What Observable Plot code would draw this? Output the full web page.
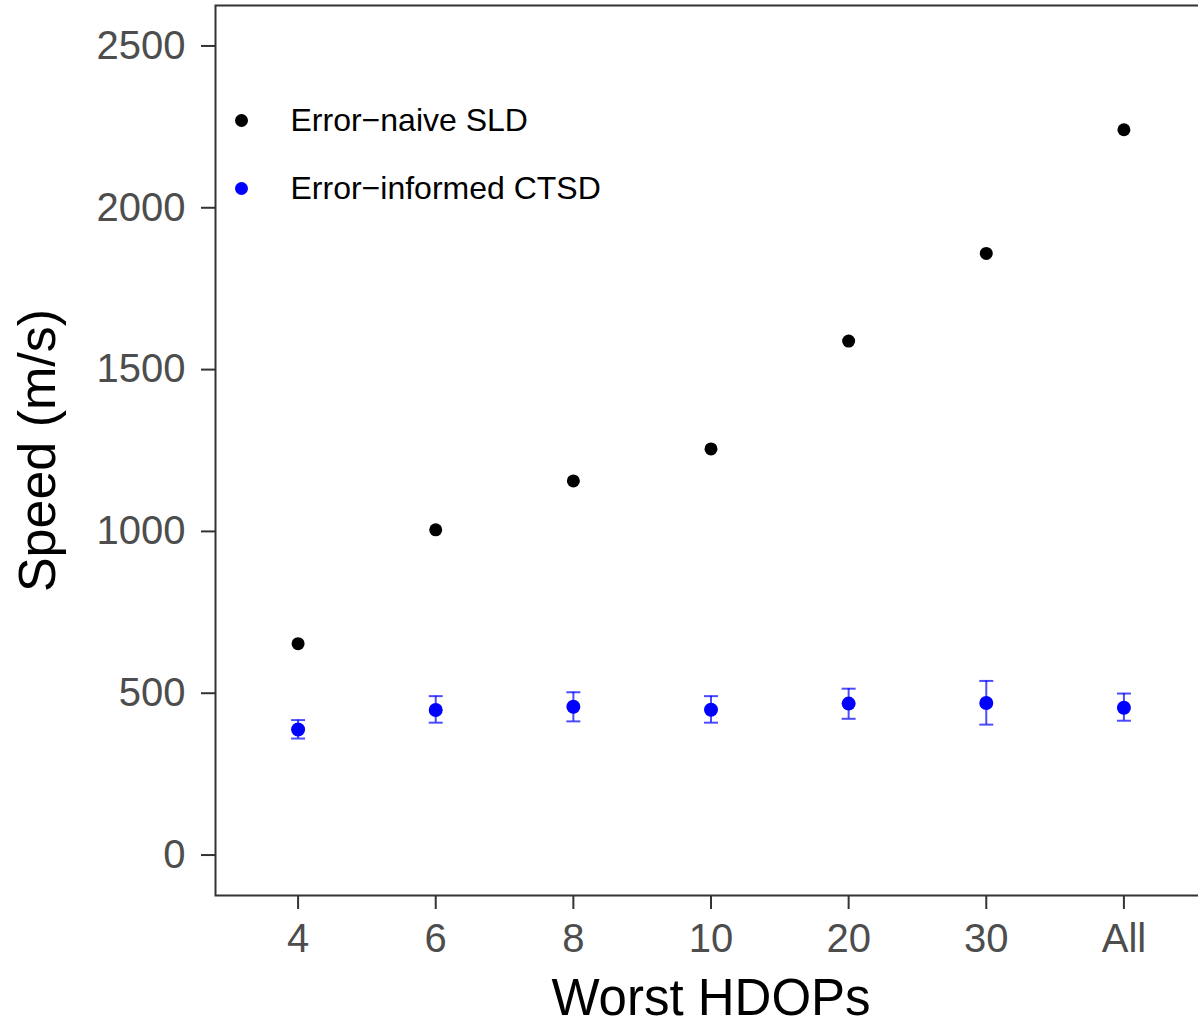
<!DOCTYPE html>
<html>
<head>
<meta charset="utf-8">
<script src="https://cdn.jsdelivr.net/npm/d3@7"></script>
<script src="https://cdn.jsdelivr.net/npm/@observablehq/plot@0.6"></script>
<style>
  html, body { margin: 0; padding: 0; background: white; overflow: hidden; }
  #chart svg { font-family: "Liberation Sans", Arial, Helvetica, sans-serif; }
</style>
</head>
<body>
<div id="chart"></div>
<script>
const categories = ["4", "6", "8", "10", "20", "30", "All"];
const naiveSLD = [653, 1005, 1156, 1255, 1588, 1859, 2241];
const ctsd = [388, 448, 458, 449, 468, 470, 455];
const ctsdLow = [360, 409, 413, 409, 421, 403, 415];
const ctsdHigh = [417, 491, 503, 491, 514, 538, 499];
const seriesNames = ["Error\u2212naive SLD", "Error\u2212informed CTSD"];
const seriesColors = ["black", "blue"];
const yTicks = [0, 500, 1000, 1500, 2000, 2500];
const xTitle = "Worst HDOPs";
const yTitle = "Speed (m/s)";

const naiveData = categories.map((c, i) => ({cat: c, v: naiveSLD[i]}));
const ctsdData = categories.map((c, i) => ({cat: c, v: ctsd[i], lo: ctsdLow[i], hi: ctsdHigh[i]}));

const capSymbol = {
  draw(context, size) {
    context.moveTo(-7, 0);
    context.lineTo(7, 0);
  }
};

const legendMarks = [];
seriesNames.forEach((name, i) => {
  legendMarks.push(Plot.dot([name], {frameAnchor: "top-left", dx: 26, dy: 115 + i * 68, r: 6.5, fill: seriesColors[i], stroke: "none"}));
  legendMarks.push(Plot.text([name], {frameAnchor: "top-left", dx: 75, dy: 115 + i * 68, text: d => d, textAnchor: "start", lineAnchor: "middle", fontSize: 32, fill: "black"}));
});

const chart = Plot.plot({
  width: 1198,
  height: 1027,
  marginLeft: 215,
  marginRight: -8,
  marginTop: 5,
  marginBottom: 132,
  style: {fontFamily: '"Liberation Sans", Arial, Helvetica, sans-serif', background: "white", overflow: "hidden"},
  x: {type: "point", domain: categories, padding: 0.6, round: false, label: null},
  y: {domain: [-125, 2625], label: null},
  marks: [
    Plot.axisY({ticks: yTicks, tickFormat: d => String(d), tickSize: 14, tickPadding: 16, fontSize: 40, stroke: "#333333", strokeWidth: 2, fill: "#4d4d4d", label: null}),
    Plot.axisX({tickSize: 14, tickPadding: 14, fontSize: 40, stroke: "#333333", strokeWidth: 2, fill: "#4d4d4d", label: null}),
    Plot.ruleX(ctsdData, {x: "cat", y1: "lo", y2: "hi", stroke: "blue", strokeOpacity: 0.7, strokeWidth: 2}),
    Plot.dot(ctsdData, {x: "cat", y: "lo", symbol: capSymbol, stroke: "blue", strokeOpacity: 0.7, strokeWidth: 2, fill: "none"}),
    Plot.dot(ctsdData, {x: "cat", y: "hi", symbol: capSymbol, stroke: "blue", strokeOpacity: 0.7, strokeWidth: 2, fill: "none"}),
    Plot.dot(naiveData, {x: "cat", y: "v", r: 6.5, fill: seriesColors[0], stroke: "none"}),
    Plot.dot(ctsdData, {x: "cat", y: "v", r: 7, fill: seriesColors[1], stroke: "none"}),
    Plot.frame({stroke: "#333333", strokeWidth: 2}),
    ...legendMarks,
    Plot.text([xTitle], {frameAnchor: "bottom", dy: 103, text: d => d, lineAnchor: "middle", textAnchor: "middle", fontSize: 51, fill: "black"}),
    Plot.text([yTitle], {frameAnchor: "left", dx: -177, text: d => d, rotate: -90, lineAnchor: "middle", textAnchor: "middle", fontSize: 52, fill: "black"})
  ]
});
document.getElementById("chart").appendChild(chart);
</script>
</body>
</html>
